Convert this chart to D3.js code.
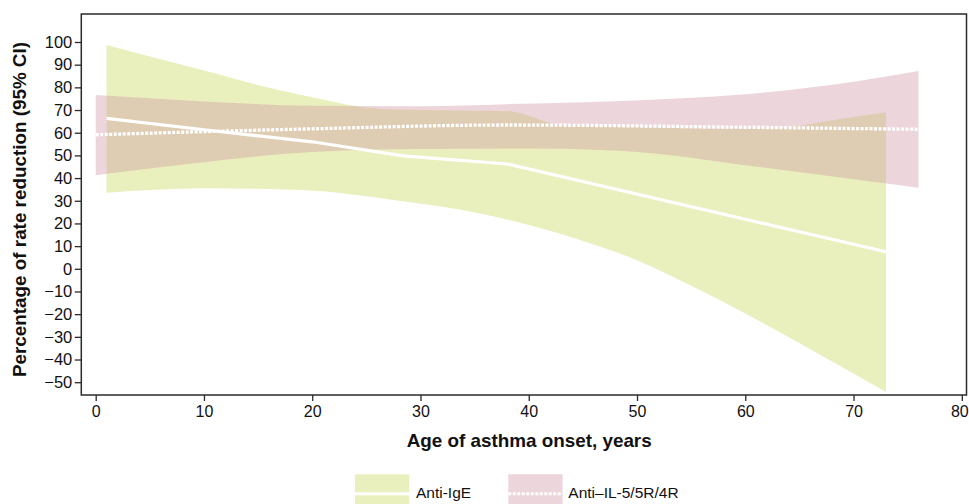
<!DOCTYPE html>
<html>
<head>
<meta charset="utf-8">
<script src="https://cdn.jsdelivr.net/npm/d3@7"></script>
<style>
  html, body { margin: 0; padding: 0; background: #fff; }
  svg { display: block; font-family: "Liberation Sans", Arial, Helvetica, sans-serif; }
</style>
</head>
<body>
<svg id="chart" width="969" height="504"></svg>
<script>
// ---- Data ----
const xTicks = [0, 10, 20, 30, 40, 50, 60, 70, 80];
const yTicks = [-50, -40, -30, -20, -10, 0, 10, 20, 30, 40, 50, 60, 70, 80, 90, 100];

// Anti-IgE
const igeUpperAge = [1, 6, 11, 15, 19, 21, 24, 28, 33, 38, 43, 50, 57, 63, 68, 73];
const igeUpper    = [98.7, 92.4, 86.2, 81, 76.6, 74.7, 71.7, 70.2, 69.8, 69.6, 63.5, 62.5, 61.8, 62, 65.5, 69];
const igeLowerAge = [1, 10, 19, 28, 35.5, 40, 45, 50, 55, 60, 66, 73];
const igeLower    = [33.5, 35.5, 34.7, 30, 24.4, 19.3, 12.3, 3.8, -7.5, -19.7, -35.5, -54.3];
const igeEstAge   = [1, 12, 20, 28.4, 38, 73];
const igeEst      = [66.3, 60.2, 56, 49.8, 46.2, 7.5];

// Anti-IL-5/5R/4R
const il5UpperAge = [0, 10, 20, 30, 38, 48.5, 60, 70, 76];
const il5Upper    = [76.6, 73.8, 71.9, 71.7, 72.6, 74, 77, 82.5, 87.2];
const il5LowerAge = [0, 10, 20, 30, 40, 46.6, 50, 60, 70, 76];
const il5Lower    = [41.3, 47, 51.5, 52.8, 53, 52.4, 51.5, 45.7, 39.5, 35.7];
const il5EstAge   = [0, 19, 38, 60, 76];
const il5Est      = [59.1, 61.6, 63.4, 62.4, 61.5];

const legendLabels = ["Anti-IgE", "Anti\u2013IL-5/5R/4R"];
const xTitle = "Age of asthma onset, years";
const yTitle = "Percentage of rate reduction (95% CI)";

// ---- Layout ----
const svg = d3.select("#chart");
const frame = { left: 81.3, right: 966.5, top: 14, bottom: 395 };
const x = d3.scaleLinear().domain([0, 80]).range([95.7, 961.8]);
const y = d3.scaleLinear().domain([-50, 100]).range([382.2, 42]);

const greenFill = "#eaf0bd";
const pinkFill = "rgb(208,153,165)";
const pinkOpacity = 0.4;

svg.append("defs").append("clipPath").attr("id", "plotClip")
  .append("rect")
  .attr("x", frame.left).attr("y", frame.top)
  .attr("width", frame.right - frame.left).attr("height", frame.bottom - frame.top);

function bandPath(upAge, up, loAge, lo) {
  const line = d3.line().x(d => x(d[0])).y(d => y(d[1])).curve(d3.curveMonotoneX);
  const upperPts = upAge.map((a, i) => [a, up[i]]);
  const lowerPts = loAge.map((a, i) => [a, lo[i]]).reverse();
  const upPath = line(upperPts);
  const loPath = line(lowerPts).replace(/^M/, "L");
  return upPath + loPath + "Z";
}

const plot = svg.append("g").attr("clip-path", "url(#plotClip)");

plot.append("path")
  .attr("d", bandPath(igeUpperAge, igeUpper, igeLowerAge, igeLower))
  .attr("fill", greenFill);

plot.append("path")
  .attr("d", bandPath(il5UpperAge, il5Upper, il5LowerAge, il5Lower))
  .attr("fill", pinkFill).attr("fill-opacity", pinkOpacity);

const linLine = d3.line().x(d => x(d[0])).y(d => y(d[1])).curve(d3.curveLinear);
const smoothLine = d3.line().x(d => x(d[0])).y(d => y(d[1])).curve(d3.curveMonotoneX);

plot.append("path")
  .attr("d", linLine(igeEstAge.map((a, i) => [a, igeEst[i]])))
  .attr("fill", "none").attr("stroke", "#fff").attr("stroke-width", 3.2)
  .attr("stroke-linejoin", "round");

plot.append("path")
  .attr("d", smoothLine(il5EstAge.map((a, i) => [a, il5Est[i]])))
  .attr("fill", "none").attr("stroke", "#fff").attr("stroke-width", 3.3)
  .attr("stroke-dasharray", "3,1.5");

// ---- Frame ----
svg.append("rect")
  .attr("x", frame.left).attr("y", frame.top)
  .attr("width", frame.right - frame.left).attr("height", frame.bottom - frame.top)
  .attr("fill", "none").attr("stroke", "#2a2a2a").attr("stroke-width", 1.5);

// ---- Axes ----
const fmt = d => (d < 0 ? "\u2212" + Math.abs(d) : String(d));

const yAxis = svg.append("g")
  .attr("transform", `translate(${frame.left},0)`)
  .call(d3.axisLeft(y).tickValues(yTicks).tickFormat(fmt).tickSize(6.5).tickPadding(2.5));
yAxis.select(".domain").remove();
yAxis.selectAll(".tick line").attr("stroke", "#2a2a2a").attr("stroke-width", 1.3);
yAxis.selectAll(".tick text")
  .attr("font-family", "'Liberation Sans', Arial, sans-serif")
  .attr("font-size", 16.5).attr("fill", "#111");

const xAxis = svg.append("g")
  .attr("transform", `translate(0,${frame.bottom})`)
  .call(d3.axisBottom(x).tickValues(xTicks).tickFormat(fmt).tickSize(6).tickPadding(5));
xAxis.select(".domain").remove();
xAxis.selectAll(".tick line").attr("stroke", "#2a2a2a").attr("stroke-width", 1.3);
xAxis.selectAll(".tick text")
  .attr("font-family", "'Liberation Sans', Arial, sans-serif")
  .attr("font-size", 16).attr("fill", "#111");
// keep the last label inside the window
xAxis.selectAll(".tick text").filter(d => d === 80).attr("dx", -2.5);

// ---- Titles ----
svg.append("text")
  .attr("x", 529.2).attr("y", 447)
  .attr("text-anchor", "middle")
  .attr("font-weight", "bold").attr("font-size", 18.5).attr("fill", "#111")
  .attr("textLength", 245).attr("lengthAdjust", "spacingAndGlyphs")
  .text(xTitle);

svg.append("text")
  .attr("transform", `translate(26,${(42 + 377) / 2}) rotate(-90)`)
  .attr("text-anchor", "middle")
  .attr("font-weight", "bold").attr("font-size", 18).attr("fill", "#111")
  .attr("textLength", 335).attr("lengthAdjust", "spacingAndGlyphs")
  .text(yTitle);

// ---- Legend ----
const legend = svg.append("g");
const sw = [ { x0: 355, fill: greenFill, op: 1, dash: null, label: legendLabels[0], tx: 416 },
             { x0: 508.3, fill: pinkFill, op: pinkOpacity, dash: "3,1.5", label: legendLabels[1], tx: 568.3 } ];
sw.forEach(s => {
  legend.append("rect").attr("x", s.x0).attr("y", 474.3).attr("width", 54.3).attr("height", 38)
    .attr("fill", s.fill).attr("fill-opacity", s.op);
  const ln = legend.append("line").attr("x1", s.x0).attr("x2", s.x0 + 54.3)
    .attr("y1", 493.8).attr("y2", 493.8).attr("stroke", "#fff").attr("stroke-width", 3);
  if (s.dash) ln.attr("stroke-dasharray", s.dash);
  legend.append("text").attr("x", s.tx).attr("y", 497.5)
    .attr("font-size", 15.5).attr("fill", "#111")
    .text(s.label);
});
</script>
</body>
</html>
